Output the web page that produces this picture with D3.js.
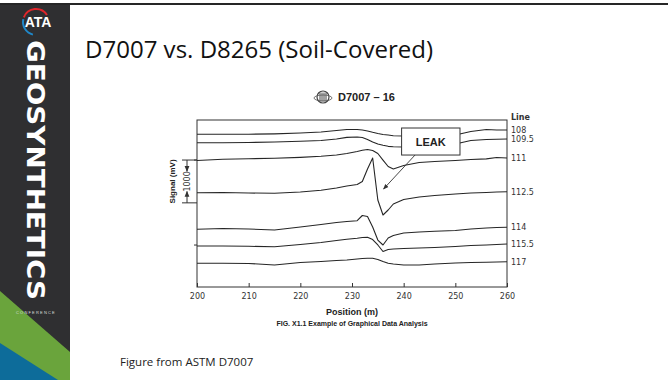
<!DOCTYPE html>
<html lang="en">
<head><meta charset="utf-8">
<title>D7007 vs. D8265 (Soil-Covered)</title>
<style>
body {
  margin: 0;
  background: #ffffff;
}
svg { display: block; }
.trace {
  fill: none;
  stroke: #262626;
  stroke-width: 1.1px;
  stroke-linejoin: round;
}
.frame { fill: none; stroke: #333; stroke-width: 1px; }
.axis path { display: none; }
.axis line { stroke: #333; }
.axis text { font-family: "DejaVu Sans"; font-size: 8px; fill: #333; }
.lbl { font-family: "DejaVu Sans"; font-size: 8px; fill: #333; }
.bold { font-family: "Liberation Sans"; font-weight: bold; fill: #222; }
</style>
</head>
<body>
<svg></svg>
<script src="https://d3js.org/d3.v7.min.js"></script>
<script>

// position along the survey line (m)
var positions = [200, 205, 210, 215, 220, 224, 227, 229, 231, 232, 233, 234,
                 235, 236, 237, 238, 240, 243, 246, 250, 253, 256, 258, 260];

// signal (mV), each survey line stacked with its own offset
var line108  = [3566, 3566, 3568, 3577, 3596, 3619, 3654, 3678, 3678, 3666, 3643, 3612,
                3584, 3561, 3549, 3533, 3526, 3526, 3538, 3549, 3631, 3678, 3666, 3666];
var line1095 = [3369, 3369, 3374, 3386, 3402, 3421, 3456, 3495, 3503, 3491, 3444, 3386,
                3339, 3309, 3285, 3276, 3269, 3281, 3304, 3339, 3421, 3444, 3449, 3456];
var line111  = [2954, 2982, 2996, 3007, 3028, 3052, 3082, 3117, 3164, 3192, 3211, 3187,
                3117, 2965, 2814, 2755, 2837, 2907, 2930, 2954, 2977, 2993, 3024, 3012];
var line1125 = [2202, 2207, 2195, 2188, 2218, 2258, 2312, 2358, 2393, 2463, 2755, 3012,
                2031, 1681, 1798, 1938, 2043, 2102, 2137, 2172, 2195, 2207, 2218, 2225];
var line114  = [1347, 1366, 1354, 1331, 1401, 1459, 1506, 1529, 1548, 1670, 1646, 1401,
                1097,  981, 1144, 1203, 1261, 1284, 1301, 1319, 1354, 1378, 1389, 1394];
var line1155 = [ 957,  957,  950,  941,  992, 1039, 1086, 1114, 1137, 1156, 1160, 1109,
                 981,  829,  876,  887,  899,  911,  922,  946,  969,  981,  992, 1004];
var line117  = [ 553,  553,  549,  514,  572,  595,  619,  630,  654,  665,  670,  670,
                 642,  595,  553,  537,  514,  514,  537,  560,  572,  577,  584,  591];

var lineNames = ["108", "109.5", "111", "112.5", "114", "115.5", "117"];
var lineValues = [line108, line1095, line111, line1125, line114, line1155, line117];

var xTicks = [200, 210, 220, 230, 240, 250, 260];
var yTicks = [2965, 980];
var scaleBar = [2965, 1965];   // 1000 mV

// leak callout in data units
var leakBox = [239.6, 250.9, 3713, 3082];
var leakArrow = [[242.2, 3082], [236.1, 2288]];

var width = 668, height = 380;

var svg = d3.select("svg")
    .attr("width", width)
    .attr("height", height);

// ---- slide chrome ----
var side = svg.append("g");
side.append("rect").attr("x", 0).attr("y", 4).attr("width", 70).attr("height", 376).attr("fill", "#2f2f31");
side.append("rect").attr("x", 0).attr("y", 3).attr("width", width).attr("height", 2).attr("fill", "#262626");
side.append("polygon").attr("points", "0,291 70,352 70,380 0,380").attr("fill", "#6aa43c");
side.append("polygon").attr("points", "0,343 58,380 0,380").attr("fill", "#0d6c9a");

// logo
var arc = d3.arc();
side.append("path").attr("transform", "translate(36,22)")
    .attr("d", arc({innerRadius: 12, outerRadius: 14, startAngle: -1.2, endAngle: 1.0}))
    .attr("fill", "#e0262b");
side.append("path").attr("transform", "translate(36,22)")
    .attr("d", arc({innerRadius: 12, outerRadius: 14, startAngle: -2.9, endAngle: -1.35}))
    .attr("fill", "#1f88c9");
side.append("text").attr("x", 38).attr("y", 27).attr("text-anchor", "middle")
    .attr("font-family", "Liberation Sans").attr("font-weight", "bold").attr("font-size", 14)
    .attr("fill", "#fff").text("ATA");

side.append("text")
    .attr("transform", "translate(27,40) rotate(90)")
    .attr("font-family", "DejaVu Sans").attr("font-weight", "bold").attr("font-size", 24)
    .attr("fill", "#fff")
    .attr("textLength", 260).attr("lengthAdjust", "spacingAndGlyphs")
    .text("GEOSYNTHETICS");
side.append("text").attr("x", 36).attr("y", 314).attr("text-anchor", "middle")
    .attr("font-family", "Liberation Sans").attr("font-size", 4).attr("letter-spacing", 1.2)
    .attr("fill", "#ddd").text("CONFERENCE");

svg.append("text").attr("x", 85).attr("y", 58)
    .attr("font-family", "Open Sans").attr("font-size", 23).attr("fill", "#111")
    .attr("textLength", 348).attr("lengthAdjust", "spacingAndGlyphs")
    .text("D7007 vs. D8265 (Soil-Covered)");

svg.append("text").attr("x", 120).attr("y", 366)
    .attr("font-family", "Open Sans").attr("font-size", 11.5).attr("fill", "#222")
    .text("Figure from ASTM D7007");

// ---- figure ----
var x = d3.scaleLinear().domain([200, 260]).range([197, 507]);
var y = d3.scaleLinear().domain([0, 3900]).range([287, 120]);

// header with astm mark
var g = svg.append("g");
var mark = g.append("g").attr("transform", "translate(323,97)");
mark.append("circle").attr("r", 6).attr("fill", "#fff").attr("stroke", "#444").attr("stroke-width", 1.2);
[-3, -1, 1, 3].forEach(function(dx) {
  mark.append("line").attr("x1", dx).attr("x2", dx).attr("y1", -4.5).attr("y2", 4.5)
      .attr("stroke", "#444").attr("stroke-width", 1);
});
mark.append("ellipse").attr("cx", 0).attr("cy", 1).attr("rx", 9).attr("ry", 3)
    .attr("fill", "none").attr("stroke", "#555").attr("stroke-width", 0.8);
g.append("text").attr("class", "bold").attr("x", 338).attr("y", 101)
    .attr("font-size", 11).text("D7007 \u2013 16");

g.append("rect").attr("class", "frame")
    .attr("x", x(200)).attr("y", y(3900))
    .attr("width", x(260) - x(200)).attr("height", y(0) - y(3900));

g.append("g").attr("class", "axis")
    .attr("transform", "translate(0," + y(0) + ")")
    .call(d3.axisBottom(x).tickValues(xTicks).tickSizeInner(-4).tickSizeOuter(0).tickPadding(6));

g.selectAll(".ytick").data(yTicks).enter().append("line")
    .attr("x1", x(200) - 3).attr("x2", x(200))
    .attr("y1", function(d) { return y(d); }).attr("y2", function(d) { return y(d); })
    .attr("stroke", "#333");

var line = d3.line()
    .x(function(d, i) { return x(positions[i]); })
    .y(function(d) { return y(d); });

g.selectAll(".trace").data(lineValues).enter().append("path")
    .attr("class", "trace")
    .attr("d", line);

g.selectAll(".lineLabel").data(lineValues).enter().append("text")
    .attr("class", "lbl")
    .attr("x", x(260) + 4)
    .attr("y", function(d) { return y(d[d.length - 1]) + 3; })
    .text(function(d, i) { return lineNames[i]; });
g.append("text").attr("class", "lbl").attr("x", x(260) + 4).attr("y", 120)
    .attr("font-weight", "bold").text("Line");

// 1000 mV scale bar
var sx = x(200) - 10;
g.selectAll(".sb").data(scaleBar).enter().append("line")
    .attr("x1", sx - 5).attr("x2", x(200))
    .attr("y1", function(d) { return y(d); }).attr("y2", function(d) { return y(d); })
    .attr("stroke", "#333");
var defs = svg.append("defs");
defs.append("marker").attr("id", "ah").attr("viewBox", "0 0 10 10")
    .attr("refX", 9).attr("refY", 5).attr("markerWidth", 6).attr("markerHeight", 6)
    .attr("orient", "auto-start-reverse")
    .append("path").attr("d", "M0,1L10,5L0,9z").attr("fill", "#333");
var mid = (y(scaleBar[0]) + y(scaleBar[1])) / 2;
g.append("line").attr("x1", sx).attr("x2", sx)
    .attr("y1", y(scaleBar[0])).attr("y2", mid - 10)
    .attr("stroke", "#333").attr("marker-end", "url(#ah)");
g.append("line").attr("x1", sx).attr("x2", sx)
    .attr("y1", mid + 10).attr("y2", y(scaleBar[1]))
    .attr("stroke", "#333").attr("marker-start", "url(#ah)");
g.append("text").attr("class", "lbl")
    .attr("transform", "translate(" + (sx + 3) + "," + mid + ") rotate(-90)")
    .attr("text-anchor", "middle").attr("font-size", 7.5).text("1000");
g.append("text").attr("class", "bold")
    .attr("transform", "translate(175," + mid + ") rotate(-90)")
    .attr("text-anchor", "middle").attr("font-size", 8).text("Signal (mV)");

g.append("text").attr("class", "bold").attr("x", (x(200) + x(260)) / 2).attr("y", 315)
    .attr("text-anchor", "middle").attr("font-size", 9).text("Position (m)");
g.append("text").attr("class", "bold").attr("x", (x(200) + x(260)) / 2).attr("y", 326)
    .attr("text-anchor", "middle").attr("font-size", 7).text("FIG. X1.1 Example of Graphical Data Analysis");

// leak callout
g.append("rect")
    .attr("x", x(leakBox[0])).attr("y", y(leakBox[2]))
    .attr("width", x(leakBox[1]) - x(leakBox[0])).attr("height", y(leakBox[3]) - y(leakBox[2]))
    .attr("fill", "#fff").attr("stroke", "#333").attr("stroke-width", 1);
g.append("text").attr("class", "bold")
    .attr("x", (x(leakBox[0]) + x(leakBox[1])) / 2).attr("y", (y(leakBox[2]) + y(leakBox[3])) / 2 + 4)
    .attr("text-anchor", "middle").attr("font-size", 11).text("LEAK");
g.append("line")
    .attr("x1", x(leakArrow[0][0])).attr("y1", y(leakArrow[0][1]))
    .attr("x2", x(leakArrow[1][0])).attr("y2", y(leakArrow[1][1]))
    .attr("stroke", "#333").attr("stroke-width", 0.9).attr("marker-end", "url(#ah)");

</script>
</body>
</html>
